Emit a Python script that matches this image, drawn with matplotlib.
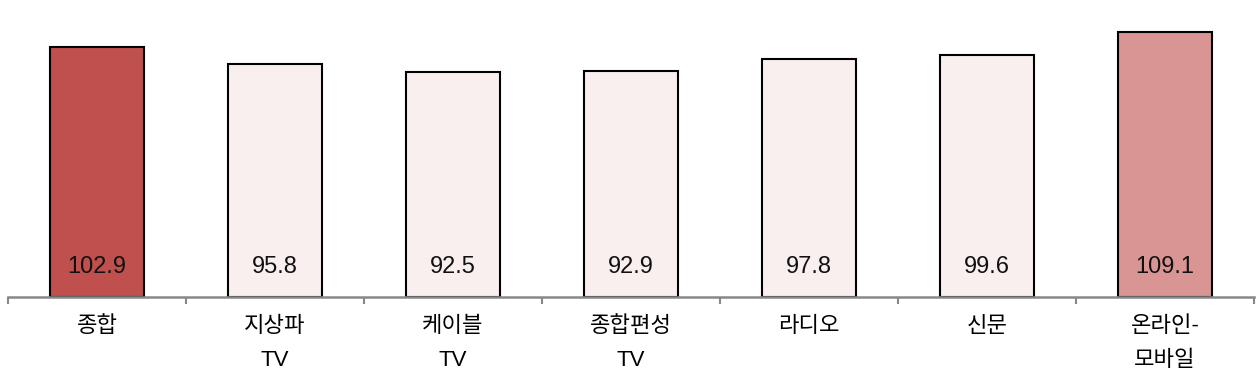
import matplotlib.pyplot as plt
import numpy as np

plt.rcParams['font.family'] = ['Liberation Sans', 'Noto Sans CJK KR', 'DejaVu Sans']

# 데이터
categories = ['종합', '지상파\nTV', '케이블\nTV', '종합편성\nTV', '라디오', '신문', '온라인-\n모바일']
values = [102.9, 95.8, 92.5, 92.9, 97.8, 99.6, 109.1]
colors = ['#C0504D', '#F9EFEE', '#F9EFEE', '#F9EFEE', '#F9EFEE', '#F9EFEE', '#D99594']

fig = plt.figure(figsize=(12.57, 3.89), dpi=100)
ax = fig.add_axes([0.0064, 0.2365, 0.9912, 0.7185])

x = np.arange(len(categories))
ax.bar(x, values, width=0.53, color=colors, edgecolor='black', linewidth=1.5)

# 값 표시 (막대 아래쪽)
for i, v in enumerate(values):
    ax.annotate(f'{v:.1f}', xy=(i, 0), xytext=(0, 30), textcoords='offset pixels',
                ha='center', va='center', fontsize=17, color='#111111')

ax.set_xlim(-0.5, len(categories) - 0.5)
ax.set_ylim(0, 115)

ax.set_xticks(x)
ax.set_xticklabels(categories, fontsize=16, linespacing=1.8)
ax.tick_params(axis='x', which='major', length=0, pad=14)
ax.set_xticks(np.arange(len(categories) + 1) - 0.5, minor=True)
ax.tick_params(axis='x', which='minor', length=5, width=1.5, color='#888888', direction='out')

ax.set_yticks([])
for s in ['top', 'right', 'left']:
    ax.spines[s].set_visible(False)
ax.spines['bottom'].set_color('#888888')
ax.spines['bottom'].set_linewidth(1.8)

plt.savefig('out.png', dpi=100)
